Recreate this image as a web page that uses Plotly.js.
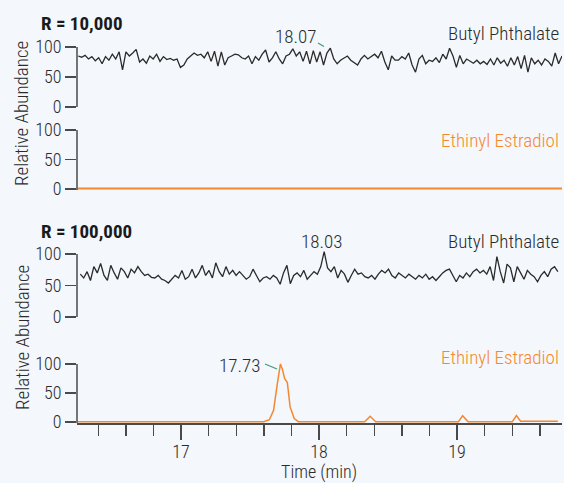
<!DOCTYPE html>
<html>
<head>
<meta charset="utf-8">
<script src="https://cdn.plot.ly/plotly-3.0.1.min.js"></script>
<style>
html,body{margin:0;padding:0;background:#f4f7fb;}
#chart{width:564px;height:483px;}
</style>
</head>
<body>
<div id="chart"></div>
<script>
// ---- data ----
const bp10kValues = [85,83,86,80,84,77,82,72,84,78,88,80,92,62,92,85,90,96,75,80,73,85,80,88,76,84,79,81,78,80,66,70,80,85,90,86,88,82,92,76,93,68,92,70,82,85,88,
87,82,80,85,72,84,78,88,95,75,82,92,80,72,85,88,97,85,92,76,93,72,94,75,92,70,90,98,80,72,78,82,85,78,74,70,80,86,80,84,88,82,93,75,62,85,78,
78,84,80,90,70,58,80,86,72,78,76,82,74,88,80,98,85,66,86,72,80,76,73,78,72,76,71,80,70,82,73,78,68,82,70,84,64,86,58,82,72,78,70,80,76,68,90,72,85];
const bp10kStart = 16.255, bp10kEnd = 19.76;

const bp100kValues = [68,62,72,58,80,70,85,66,58,82,70,60,78,72,62,76,70,80,72,66,68,63,62,66,60,58,54,60,66,62,74,60,64,76,62,70,82,66,74,62,86,72,64,80,68,74,66,
72,66,60,64,76,66,56,62,64,60,66,62,52,70,82,53,66,70,64,74,60,66,72,68,80,104,78,72,80,62,74,68,55,66,76,68,70,64,62,66,60,68,74,70,76,66,62,
70,66,62,68,64,60,66,62,68,60,64,58,64,70,74,76,66,56,66,62,70,64,72,76,70,74,68,80,58,96,72,54,84,78,56,80,70,60,74,68,64,56,66,72,64,76,80,72];
const bp100kStart = 16.27, bp100kEnd = 19.73;

const ee10kTime = [16.25, 17.0, 18.0, 19.0, 19.76];
const ee10kValues = [0.8, 0.8, 0.8, 0.8, 0.8];

const ee100kTime = [16.25, 17.6, 17.64, 17.67, 17.70, 17.72, 17.735, 17.75, 17.77, 17.79, 17.82, 17.85, 18.33, 18.37, 18.41, 19.01, 19.04, 19.08, 19.40, 19.43, 19.46, 19.73];
const ee100kValues = [0.6, 0.6, 4, 20, 70, 100, 90, 75, 68, 26, 6, 0.6, 0.6, 10, 0.6, 0.6, 11, 0.6, 0.6, 11, 1.5, 1.5];

const xTickVals = [17, 18, 19];
const xTickText = ['17', '18', '19'];
const yTickVals = [0, 50, 100];
const yTickText = ['0', '50', '100'];

// ---- helpers ----
function grid(a, b, n){ const t=[]; for(let i=0;i<n;i++) t.push(a+(b-a)*i/(n-1)); return t; }
const bp10kTime = grid(bp10kStart, bp10kEnd, bp10kValues.length);
const bp100kTime = grid(bp100kStart, bp100kEnd, bp100kValues.length);

const FONT = '"Roboto Condensed", Roboto, "Liberation Sans", sans-serif';
const DARK = '#2b2b2b';
const ORANGE = '#f5882e';
const GREEN = '#3f9a7c';
const AXIS = '#4a4a4a';
const LBL = 19;
const TICK = 18;
const WT = 300;

const L = 77, R = 2, T = 0, B = 50, W = 564, H = 483;
const PW = W - L - R, PH = H - T - B;
const px = x => (x - L) / PW;
const py = y => (PH - (y - T)) / PH;

const traces = [
  {x: bp10kTime, y: bp10kValues, xaxis:'x', yaxis:'y', mode:'lines', line:{color:DARK, width:1.3}, hoverinfo:'skip'},
  {x: ee10kTime, y: ee10kValues, xaxis:'x', yaxis:'y2', mode:'lines', line:{color:ORANGE, width:2}, hoverinfo:'skip'},
  {x: bp100kTime, y: bp100kValues, xaxis:'x', yaxis:'y3', mode:'lines', line:{color:DARK, width:1.3}, hoverinfo:'skip'},
  {x: ee100kTime, y: ee100kValues, xaxis:'x', yaxis:'y4', mode:'lines', line:{color:ORANGE, width:1.5}, hoverinfo:'skip'}
];

function yax(range, dom){
  return {range: range, domain: dom, showgrid:false, zeroline:false, showline:false,
    tickmode:'array', tickvals: yTickVals, ticktext: yTickText, ticks:'outside', ticklen:11,
    tickwidth:1.5, tickcolor:AXIS, tickfont:{family:FONT, size:TICK, color:DARK, weight:WT}, fixedrange:true};
}
function xax(anchor, opts){
  return Object.assign({range:[16.246, 19.76], domain:[0,1], anchor: anchor, showgrid:false, zeroline:false,
    showline:true, linecolor:AXIS, linewidth:2, fixedrange:true, showticklabels:false, ticks:''}, opts);
}

const d1 = [(PH-107)/PH, (PH-42.2)/PH];
const d2 = [(PH-190.2)/PH, (PH-127)/PH];
const d3 = [(PH-317)/PH, (PH-249)/PH];
const d4 = [(PH-423.2)/PH, (PH-360.5)/PH];

function ann(text, x, y, xanchor, color, extra, weight, size){
  return Object.assign({text:text, xref:'paper', yref:'paper', x:px(x), y:py(y), xanchor:xanchor, yanchor:'middle',
    showarrow:false, font:{family:FONT, size: size || LBL, color:color, weight: weight || WT}}, extra || {});
}

const layout = {
  width: W, height: H,
  margin: {l:L, r:R, t:T, b:B},
  paper_bgcolor:'#f4f7fb', plot_bgcolor:'rgba(0,0,0,0)',
  showlegend:false,
  font:{family:FONT, color:DARK},
  xaxis: xax('y4', {tickmode:'array', tickvals:xTickVals, ticktext:xTickText, ticks:'outside', ticklen:15, tickwidth:1.5, tickcolor:AXIS,
    showticklabels:true, tickfont:{family:FONT, size:TICK, color:DARK, weight:WT}, ticklabelstandoff:-4,
    minor:{dtick:0.2, tick0:0, ticks:'outside', ticklen:11, tickwidth:1.5, tickcolor:AXIS}}),
  xaxis2: xax('y2', {overlaying:'x', tickmode:'array', tickvals:xTickVals, ticks:'outside', ticklen:21, tickwidth:1.5, tickcolor:AXIS,
    minor:{dtick:0.2, tick0:0, ticks:'outside', ticklen:16, tickwidth:1.5, tickcolor:AXIS}}),
  xaxis3: xax('y', {overlaying:'x'}),
  xaxis4: xax('y3', {overlaying:'x'}),
  yaxis: yax([0,108], d1),
  yaxis2: yax([-2,105], d2),
  yaxis3: yax([0,108], d3),
  yaxis4: yax([-2,106], d4),
  shapes: [
    {type:'line', xref:'paper', yref:'y', x0:0, x1:0, y0:0, y1:100, line:{color:AXIS, width:1.5}},
    {type:'line', xref:'paper', yref:'y2', x0:0, x1:0, y0:-2, y1:100, line:{color:AXIS, width:1.5}},
    {type:'line', xref:'paper', yref:'y3', x0:0, x1:0, y0:0, y1:100, line:{color:AXIS, width:1.5}},
    {type:'line', xref:'paper', yref:'y4', x0:0, x1:0, y0:-2, y1:100, line:{color:AXIS, width:1.5}},
    {type:'line', xref:'paper', yref:'paper', x0:px(318), x1:px(324), y0:py(43), y1:py(46.5), line:{color:GREEN, width:1.2}},
    {type:'line', xref:'paper', yref:'paper', x0:px(265), x1:px(277), y0:py(364), y1:py(369), line:{color:GREEN, width:1.2}}
  ],
  annotations: [
    ann('<b>R = 10,000</b>', 39, 23, 'left', '#1a1a1a', null, 700),
    ann('<b>R = 100,000</b>', 39, 231, 'left', '#1a1a1a', null, 700),
    ann('Butyl Phthalate', 561, 33, 'right', DARK),
    ann('Ethinyl Estradiol', 561, 140, 'right', ORANGE),
    ann('Butyl Phthalate', 561, 241, 'right', DARK),
    ann('Ethinyl Estradiol', 561, 357, 'right', ORANGE),
    ann('18.07', 296, 36, 'center', DARK),
    ann('18.03', 322, 241, 'center', DARK),
    ann('17.73', 263, 365, 'right', DARK),
    ann('Relative Abundance', 22, 114, 'center', DARK, {textangle:-90}),
    ann('Relative Abundance', 22, 338, 'center', DARK, {textangle:-90}),
    ann('Time (min)', 319, 471.5, 'center', DARK, {borderpad:0}, WT, 18)
  ]
};

Plotly.newPlot('chart', traces, layout, {displayModeBar:false, staticPlot:true});
</script>
</body>
</html>
